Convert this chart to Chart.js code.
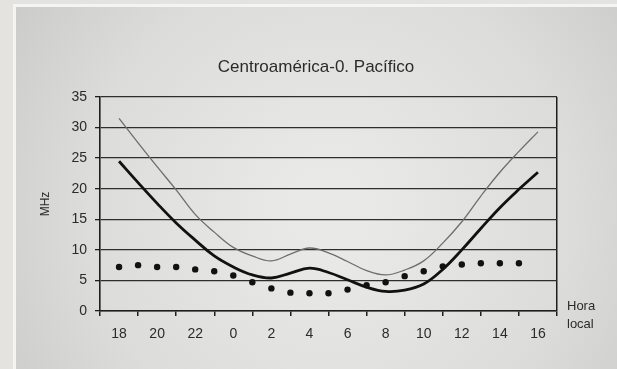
<!DOCTYPE html>
<html>
<head>
<meta charset="utf-8">
<script src="https://cdn.jsdelivr.net/npm/chart.js@4/dist/chart.umd.min.js"></script>
<style>
  html, body { margin: 0; padding: 0; background: #dcdcda; }
  #wrap { width: 617px; height: 369px; }
</style>
</head>
<body>
<div id="wrap"><canvas id="chart" width="617" height="369"></canvas></div>
<script>
// hora local, one entry per hour from 18 h to 16 h
var hours = ['18','19','20','21','22','23','0','1','2','3','4','5','6','7','8','9','10','11','12','13','14','15','16'];
// thin grey curve (upper)
var upperMHz = [31.5, 27.5, 23.6, 19.8, 15.8, 12.9, 10.4, 9.0, 8.2, 9.3, 10.3, 9.5, 8.1, 6.6, 5.9, 6.7, 8.2, 11.1, 14.6, 18.8, 22.7, 26.1, 29.3];
// thick black curve (lower)
var lowerMHz = [24.5, 21.0, 17.6, 14.4, 11.6, 9.0, 7.2, 5.9, 5.4, 6.2, 7.0, 6.3, 5.1, 3.9, 3.2, 3.4, 4.4, 6.8, 10.0, 13.5, 16.9, 19.9, 22.7];
// dotted series, 18 h .. 15 h
var dotMHz = [7.2, 7.5, 7.2, 7.2, 6.8, 6.5, 5.8, 4.7, 3.7, 3.0, 2.9, 2.9, 3.5, 4.2, 4.7, 5.7, 6.5, 7.3, 7.6, 7.8, 7.8, 7.8];
var yTicks = [0, 5, 10, 15, 20, 25, 30, 35];
var chartTitle = 'Centroamérica-0. Pacífico';

var FONT = '"Liberation Sans", Arial, sans-serif';
var INK = '#2b2b2b';

function toPoints(arr) {
  return arr.map(function (v, i) { return { x: i, y: v }; });
}

// grey scanned panel behind the chart, title and "Hora local" note
var panelBg = {
  id: 'panelBg',
  beforeDraw: function (chart) {
    var c = chart.ctx;
    c.save();
    c.fillStyle = '#e4e3e0';
    c.fillRect(0, 0, 617, 369);
    c.fillStyle = '#f4f4f2';
    c.fillRect(13, 4, 604, 3);
    c.fillRect(13, 4, 3, 365);
    var g = c.createRadialGradient(330, 210, 40, 330, 210, 380);
    g.addColorStop(0, '#e9e9e8');
    g.addColorStop(0.6, '#dcdcdb');
    g.addColorStop(1, '#cbcbca');
    c.fillStyle = g;
    c.fillRect(16, 7, 601, 362);
    c.restore();
  },
  afterDraw: function (chart) {
    var c = chart.ctx;
    c.save();
    c.fillStyle = INK;
    c.textBaseline = 'middle';
    c.textAlign = 'center';
    c.font = '17px ' + FONT;
    c.fillText(chartTitle, 316, 67);
    c.textAlign = 'left';
    c.font = '13px ' + FONT;
    c.fillText('Hora', 567, 306);
    c.fillText('local', 567, 324);
    c.restore();
  }
};

new Chart(document.getElementById('chart'), {
  type: 'line',
  data: {
    datasets: [
      {
        label: 'superior',
        data: toPoints(upperMHz),
        borderColor: '#6e6e6e',
        borderWidth: 1.3,
        pointRadius: 0,
        tension: 0.4,
        fill: false
      },
      {
        label: 'inferior',
        data: toPoints(lowerMHz),
        borderColor: '#111111',
        borderWidth: 2.8,
        pointRadius: 0,
        tension: 0.4,
        fill: false
      },
      {
        label: 'puntos',
        data: toPoints(dotMHz),
        showLine: false,
        pointRadius: 3.2,
        pointBackgroundColor: '#111111',
        pointBorderWidth: 0
      }
    ]
  },
  options: {
    responsive: false,
    animation: false,
    layout: { padding: { left: 0, right: 60, top: 97, bottom: 0 } },
    plugins: {
      legend: { display: false },
      tooltip: { enabled: false },
      title: { display: false }
    },
    scales: {
      x: {
        type: 'linear',
        min: -1,
        max: 23,
        afterFit: function (scale) { scale.height = 58; },
        afterBuildTicks: function (scale) {
          var t = [];
          for (var i = -1; i <= 23; i++) t.push({ value: i });
          scale.ticks = t;
        },
        ticks: {
          autoSkip: false,
          maxRotation: 0,
          padding: 10,
          color: INK,
          font: { family: FONT, size: 14 },
          callback: function (v) {
            return (v >= 0 && v % 2 === 0) ? hours[v] : '';
          }
        },
        grid: {
          drawOnChartArea: true,
          lineWidth: 1.5,
          tickLength: 5,
          color: function (ctx) {
            return ctx.tick && ctx.tick.value === 23 ? '#1e1e1e' : 'rgba(0,0,0,0)';
          },
          tickColor: function (ctx) {
            return ctx.tick && Math.abs(ctx.tick.value % 2) === 1 ? '#1e1e1e' : 'rgba(0,0,0,0)';
          }
        },
        border: { color: '#1e1e1e', width: 1.6 }
      },
      y: {
        min: 0,
        max: 35,
        afterFit: function (scale) { scale.width = 100; },
        afterBuildTicks: function (scale) {
          scale.ticks = yTicks.map(function (v) { return { value: v }; });
        },
        ticks: {
          padding: 8,
          color: INK,
          font: { family: FONT, size: 14 }
        },
        title: {
          display: true,
          text: 'MHz',
          color: INK,
          font: { family: FONT, size: 12 },
          padding: { top: 38, bottom: 0 }
        },
        grid: {
          color: '#2e2e2e',
          lineWidth: 1.3,
          tickLength: 5,
          tickColor: '#1e1e1e'
        },
        border: { color: '#1e1e1e', width: 1.6 }
      }
    }
  },
  plugins: [panelBg]
});
</script>
</body>
</html>
